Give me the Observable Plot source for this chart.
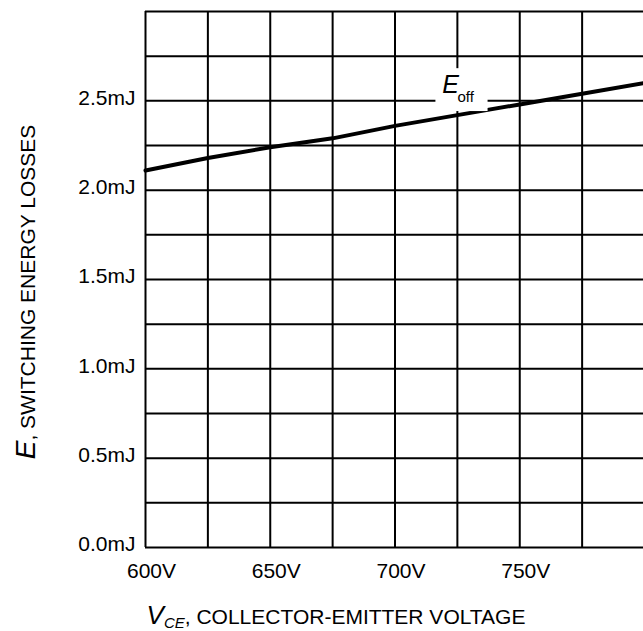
<!DOCTYPE html>
<html><head><meta charset="utf-8">
<script src="https://cdn.jsdelivr.net/npm/d3@7"></script>
<script src="https://cdn.jsdelivr.net/npm/@observablehq/plot@0.6"></script>
<style>body{margin:0;background:#fff} svg{display:block}</style>
</head><body><div id="chart"></div>
<script>
// Collector-emitter voltage (V) sampled at the grid lines
const vce = [600, 625, 650, 675, 700, 725, 750, 775, 800];
// E_off switching energy losses (mJ)
const eoff = [2.11, 2.18, 2.24, 2.29, 2.36, 2.42, 2.48, 2.54, 2.60];
// Tick values and labels
const xTicks = [600, 650, 700, 750];
const xTickLabels = ["600V", "650V", "700V", "750V"];
const yTicks = [0, 0.5, 1.0, 1.5, 2.0, 2.5];
const yTickLabels = ["0.0mJ", "0.5mJ", "1.0mJ", "1.5mJ", "2.0mJ", "2.5mJ"];
// Grid lines
const xGrid = [600, 625, 650, 675, 700, 725, 750, 775, 800];
const yGrid = [0, 0.25, 0.5, 0.75, 1.0, 1.25, 1.5, 1.75, 2.0, 2.25, 2.5, 2.75, 3.0];
// Curve label anchor and its white backing box (data units)
const curveLabel = [{v: 722.3, e: 2.59}];
const labelBox = [{v1: 716.4, v2: 737.3, e1: 2.44, e2: 2.68}];

const data = vce.map((v, i) => ({v, e: eoff[i]}));
const FONT = "'Liberation Sans', Arial, Helvetica, sans-serif";

const chart = Plot.plot({
  width: 643, height: 631,
  marginLeft: 145, marginRight: -1, marginTop: 11, marginBottom: 84,
  style: {fontFamily: FONT, fontSize: "21px", color: "#000", background: "#fff"},
  x: {domain: [600, 800]},
  y: {domain: [0, 3]},
  marks: [
    Plot.ruleX(xGrid, {stroke: "#000", strokeWidth: 2}),
    Plot.ruleY(yGrid, {stroke: "#000", strokeWidth: 2}),
    Plot.line(data, {x: "v", y: "e", stroke: "#000", strokeWidth: 4}),
    Plot.rect(labelBox, {x1: "v1", x2: "v2", y1: "e1", y2: "e2", fill: "#fff"}),
    Plot.text(curveLabel, {x: "v", y: "e", text: () => "E", fontStyle: "italic", fontSize: 25, fill: "#000"}),
    Plot.text(curveLabel, {x: "v", y: "e", text: () => "off", fontSize: 15, dx: 15, dy: 12, fill: "#000"}),
    Plot.axisX({ticks: xTicks, tickFormat: d => xTickLabels[xTicks.indexOf(d)], tickSize: 0, tickPadding: 16, dx: 6, label: null, fontSize: 21, fill: "#000"}),
    Plot.axisY({ticks: yTicks, tickFormat: d => yTickLabels[yTicks.indexOf(d)], tickSize: 0, tickPadding: 10, dy: -3, label: null, fontSize: 21, fill: "#000"})
  ]
});
document.getElementById("chart").appendChild(chart);

const svg = d3.select(chart);
svg.selectAll('g[aria-label="x-axis tick label"], g[aria-label="y-axis tick label"]')
  .attr("font-size", 21).attr("fill", "#000");

const yt = svg.append("text")
  .attr("transform", "translate(35,292) rotate(-90)")
  .attr("text-anchor", "middle")
  .attr("fill", "#000")
  .style("font-family", FONT);
yt.append("tspan").attr("font-style", "italic").attr("font-size", 28).text("E");
yt.append("tspan").attr("font-size", 21).text(", SWITCHING ENERGY LOSSES");

const xt = svg.append("text")
  .attr("x", 336).attr("y", 624)
  .attr("text-anchor", "middle")
  .attr("fill", "#000")
  .style("font-family", FONT);
xt.append("tspan").attr("font-style", "italic").attr("font-size", 26).text("V");
xt.append("tspan").attr("font-style", "italic").attr("font-size", 15).attr("dy", 4).text("CE");
xt.append("tspan").attr("font-size", 21).attr("dy", -4).text(", COLLECTOR-EMITTER VOLTAGE");
</script>
</body></html>
